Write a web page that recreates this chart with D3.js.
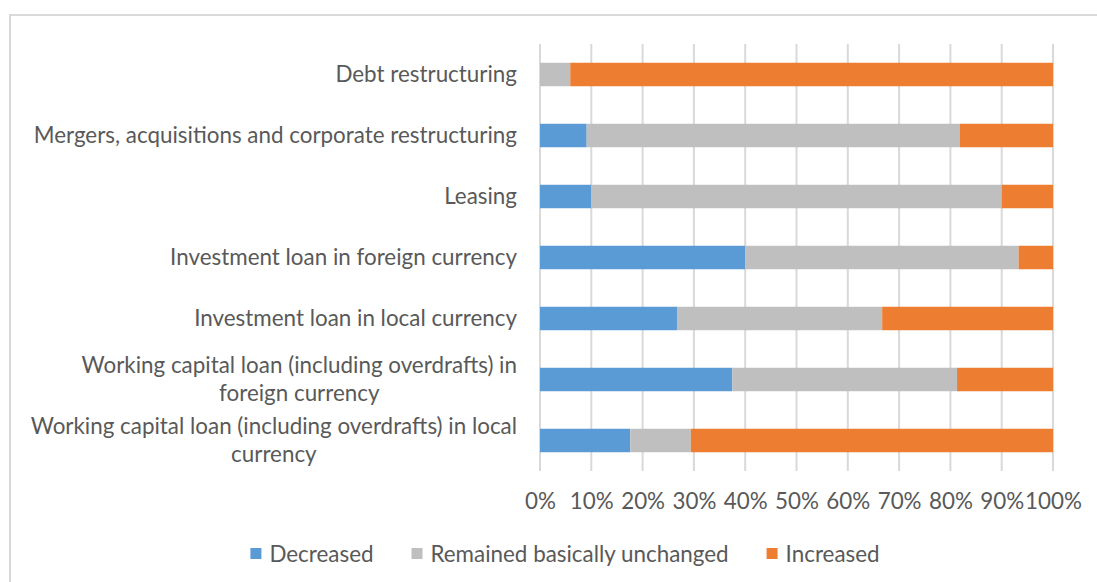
<!DOCTYPE html>
<html>
<head>
<meta charset="utf-8">
<script src="https://cdn.jsdelivr.net/npm/d3@7"></script>
<style>
  body { margin: 0; background: #fff; }
  text { font-family: Lato, "Open Sans", sans-serif; fill: #595959; }
</style>
</head>
<body>
<div id="chart"></div>
<script>
// categories top to bottom, values in percent
var categories = [
  "Debt restructuring",
  "Mergers, acquisitions and corporate restructuring",
  "Leasing",
  "Investment loan in foreign currency",
  "Investment loan in local currency",
  "Working capital loan (including overdrafts) in foreign currency",
  "Working capital loan (including overdrafts) in local currency"
];
var decreased = [0, 9.1, 10, 40, 26.7, 37.5, 17.6];
var unchanged = [5.9, 72.7, 80, 53.3, 40, 43.8, 11.8];
var increased = [94.1, 18.2, 10, 6.7, 33.3, 18.7, 70.6];
var seriesNames = ["Decreased", "Remained basically unchanged", "Increased"];
var seriesColors = ["#5b9bd5", "#bfbfbf", "#ed7d31"];
var tickValues = [0, 0.1, 0.2, 0.3, 0.4, 0.5, 0.6, 0.7, 0.8, 0.9, 1];

var width = 1097, height = 582;
var fontSize = 22.4;

var svg = d3.select("#chart").append("svg")
  .attr("width", width)
  .attr("height", height);

// chart frame
svg.append("rect")
  .attr("x", 10).attr("y", 15)
  .attr("width", 1200).attr("height", 700)
  .attr("fill", "none")
  .attr("stroke", "#d9d9d9")
  .attr("stroke-width", 2);

var x = d3.scaleLinear().domain([0, 1]).range([540, 1053]);
var y = d3.scaleBand().domain(categories).range([44, 471])
  .paddingInner(0.615).paddingOuter(0.3075);

// gridlines
svg.append("g").selectAll("line")
  .data(tickValues)
  .enter().append("line")
  .attr("x1", function(d) { return x(d); })
  .attr("x2", function(d) { return x(d); })
  .attr("y1", 44).attr("y2", 471)
  .attr("stroke", "#d9d9d9")
  .attr("stroke-width", 2);

var rows = categories.map(function(c, i) {
  return { cat: c, Decreased: decreased[i], "Remained basically unchanged": unchanged[i], Increased: increased[i] };
});
var stack = d3.stack().keys(seriesNames)
  .value(function(d, k) { return d[k] / (d.Decreased + d["Remained basically unchanged"] + d.Increased); });

svg.append("g").selectAll("g")
  .data(stack(rows))
  .enter().append("g")
  .attr("fill", function(d, i) { return seriesColors[i]; })
  .selectAll("rect")
  .data(function(d) { return d; })
  .enter().append("rect")
  .attr("x", function(d) { return x(d[0]); })
  .attr("width", function(d) { return x(d[1]) - x(d[0]); })
  .attr("y", function(d) { return y(d.data.cat); })
  .attr("height", y.bandwidth());

// x axis labels
var xAxis = svg.append("g")
  .attr("transform", "translate(0,471)")
  .call(d3.axisBottom(x).tickValues(tickValues).tickSize(0).tickPadding(22).tickFormat(d3.format(".0%")));
xAxis.select(".domain").remove();
xAxis.selectAll("text")
  .style("font-family", "Lato, sans-serif")
  .style("font-size", fontSize + "px")
  .attr("fill", "#595959");

// category labels, wrapped and centred line by line
var labelRight = 517, maxLabel = 495;
var labels = svg.append("g").selectAll("g")
  .data(categories)
  .enter().append("g");

labels.each(function(c) {
  var g = d3.select(this);
  var words = c.split(" ");
  var lines = [], line = [];
  var probe = g.append("text").style("font-size", fontSize + "px");
  words.forEach(function(w) {
    line.push(w);
    probe.text(line.join(" "));
    if (probe.node().getComputedTextLength() > maxLabel && line.length > 1) {
      line.pop();
      lines.push(line.join(" "));
      line = [w];
    }
  });
  lines.push(line.join(" "));
  var widths = lines.map(function(l) { probe.text(l); return probe.node().getComputedTextLength(); });
  probe.remove();
  var blockW = d3.max(widths);
  var cx = labelRight - blockW / 2;
  var lh = 28;
  var cy = y(c) + y.bandwidth() / 2;
  lines.forEach(function(l, i) {
    g.append("text")
      .attr("x", cx)
      .attr("y", cy + (i - (lines.length - 1) / 2) * lh)
      .attr("dy", "0.35em")
      .attr("text-anchor", "middle")
      .style("font-size", fontSize + "px")
      .text(l);
  });
});

// legend
var legend = svg.append("g");
var lx = 0;
seriesNames.forEach(function(name, i) {
  var item = legend.append("g").attr("transform", "translate(" + lx + ",0)");
  item.append("rect")
    .attr("x", 0).attr("y", -6)
    .attr("width", 11).attr("height", 11)
    .attr("fill", seriesColors[i]);
  var t = item.append("text")
    .attr("x", 19).attr("y", 0)
    .attr("dy", "0.35em")
    .style("font-size", fontSize + "px")
    .text(name);
  lx += 19 + t.node().getComputedTextLength() + 38;
});
var legendW = lx - 38;
legend.attr("transform", "translate(" + (565 - legendW / 2) + ",554)");
</script>
</body>
</html>
